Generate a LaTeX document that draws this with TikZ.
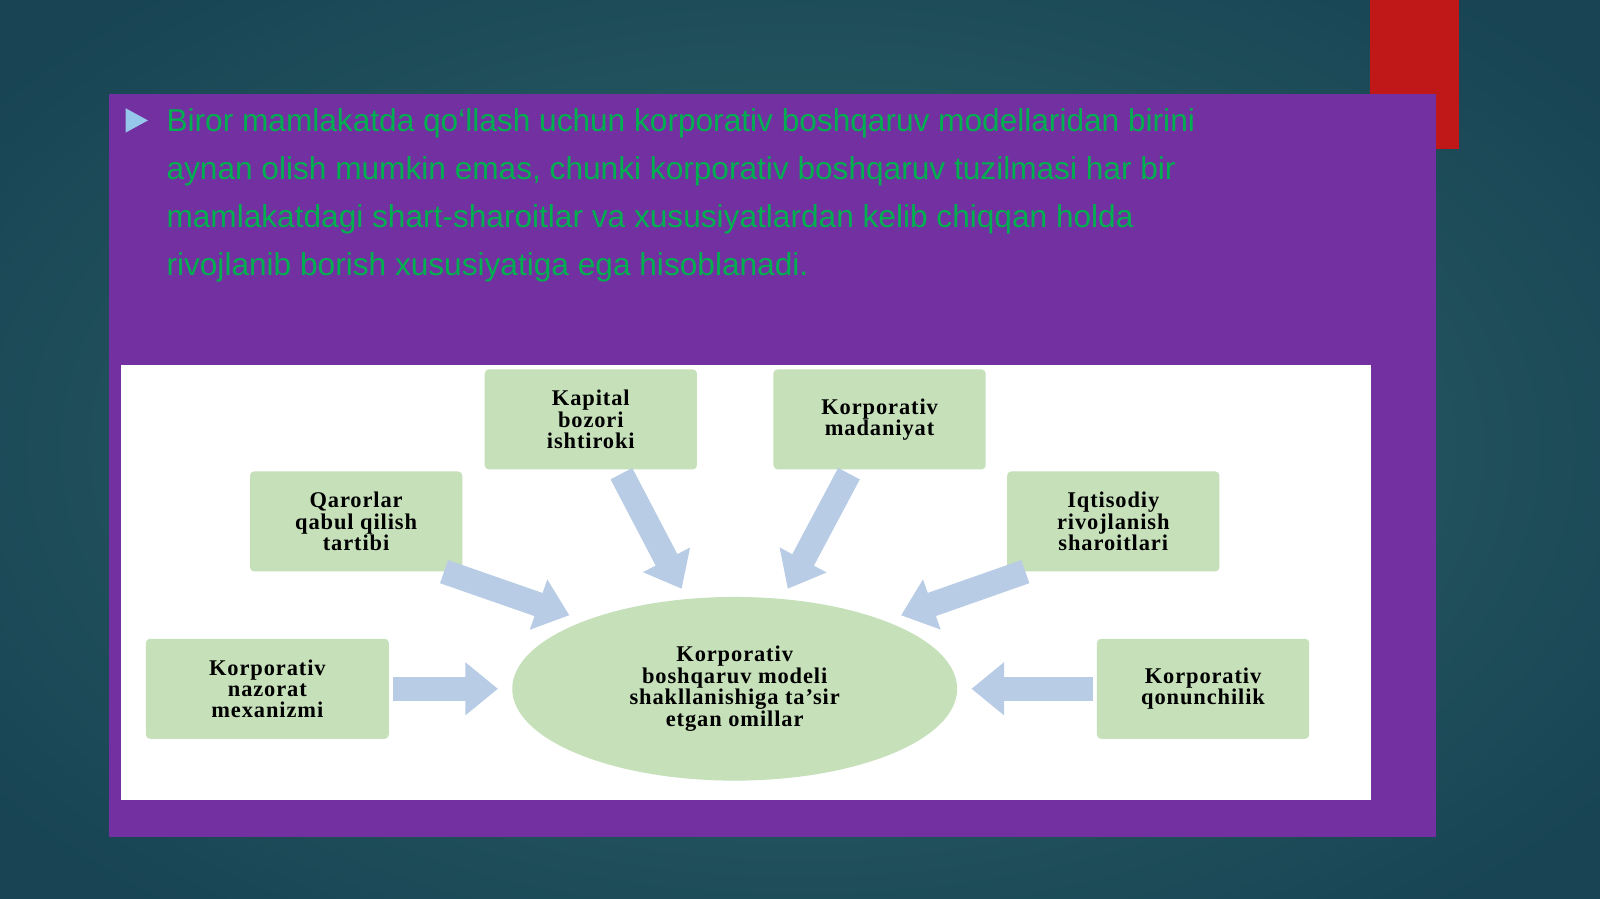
\documentclass[tikz,border=0pt]{standalone}
\usepackage{fontspec}
\setmainfont{Liberation Serif}
\setsansfont{Liberation Sans}
\usetikzlibrary{arrows.meta, positioning, shapes.geometric}
\definecolor{bgdark}{RGB}{24, 68, 84}
\definecolor{bglight}{RGB}{48, 104, 106}
\definecolor{panel}{RGB}{115, 48, 160}
\definecolor{slidered}{RGB}{192, 24, 24}
\definecolor{boxgreen}{RGB}{198, 224, 186}
\definecolor{arrowblue}{RGB}{184, 204, 230}
\definecolor{textgreen}{RGB}{0, 176, 80}
\definecolor{bulletblue}{RGB}{150, 200, 235}
\tikzset{
    factor/.style={rectangle, rounded corners=4pt, minimum width=208pt, minimum height=98pt, align=center, fill=boxgreen, inner sep=2pt, font=\addfontfeatures{LetterSpace=4}\fontsize{22}{21}\selectfont\bfseries},
    core/.style={ellipse, minimum width=436pt, minimum height=180pt, align=center, fill=boxgreen, inner sep=0pt, font=\addfontfeatures{LetterSpace=4}\fontsize{22}{21}\selectfont\bfseries},
    flow/.style={line width=24pt, arrowblue, -{Triangle[width=50pt,length=32pt]}}
}
\begin{document}
\begin{tikzpicture}[x=1pt, y=-1pt]
    % Background
    \useasboundingbox (0,0) rectangle (1568,881);
    \shade[inner color=bglight, outer color=bgdark] (-200,-150) rectangle (1768,1031);
    \fill[slidered] (1343,0) rectangle (1430,146);
    \fill[panel] (107,92) rectangle (1407,820);

    % Text block
    \fill[bulletblue] (123,106) -- (145,118) -- (123,130) -- cycle;
    \node[anchor=north west, align=left, text=textgreen, inner sep=0pt,
          font=\sffamily\fontsize{31}{47}\selectfont] (lead) at (163,106) {Biror mamlakatda qo‘llash uchun korporativ boshqaruv modellaridan birini\\aynan olish mumkin emas, chunki korporativ boshqaruv tuzilmasi har bir\\mamlakatdagi shart-sharoitlar va xususiyatlardan kelib chiqqan holda\\rivojlanib borish xususiyatiga ega hisoblanadi.};

    % Diagram
    \fill[white] (119,358) rectangle (1344,784);
    \node[core] (model) at (720,675) {Korporativ\\boshqaruv modeli\\shakllanishiga ta’sir\\etgan omillar};
    \node[factor] (kapital) at (579,411) {Kapital\\bozori\\ishtiroki};
    \node[factor] (madaniyat) at (862,411) {Korporativ\\madaniyat};
    \node[factor] (qarorlar) at (349,511) {Qarorlar\\qabul qilish\\tartibi};
    \node[factor] (iqtisodiy) at (1091,511) {Iqtisodiy\\rivojlanish\\sharoitlari};
    \node[factor, minimum width=238pt] (nazorat) at (262,675) {Korporativ\\nazorat\\mexanizmi};
    \node[factor] (qonun) at (1179,675) {Korporativ\\qonunchilik};

    % Arrows
    \coordinate (kapitalEnd) at (668,577);
    \coordinate (madaniyatEnd) at (772,577);
    \coordinate (qarorlarEnd) at (558,603);
    \coordinate (iqtisodiyEnd) at (883,603);
    \coordinate (nazoratEnd) at (488,675);
    \coordinate (qonunEnd) at (952,675);
    \draw[flow] (kapital.south) ++(30,4) -- (kapitalEnd);
    \draw[flow] (madaniyat.south) ++(-30,4) -- (madaniyatEnd);
    \draw[flow] (qarorlar.south east) ++(-18,0) -- (qarorlarEnd);
    \draw[flow] (iqtisodiy.south west) ++(18,0) -- (iqtisodiyEnd);
    \draw[flow] (nazorat.east) ++(4,0) -- (nazoratEnd);
    \draw[flow] (qonun.west) ++(-4,0) -- (qonunEnd);
\end{tikzpicture}
\end{document}
